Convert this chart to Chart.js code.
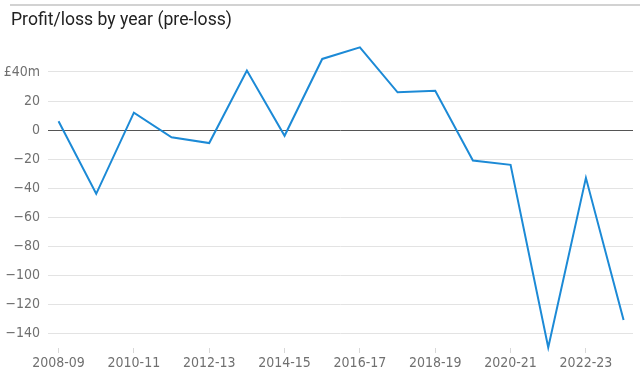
<!DOCTYPE html>
<html>
<head>
<meta charset="utf-8">
<script src="https://cdn.jsdelivr.net/npm/chart.js@4/dist/chart.umd.min.js"></script>
<style>
  html, body { margin: 0; padding: 0; background: #fff; }
  #wrap { position: relative; width: 640px; height: 378px; overflow: hidden; }
  #rule { position: absolute; left: 10px; right: 0; top: 4px; height: 2px; background: #d2d2d2; }
  #title { position: absolute; left: 11px; top: 9px; font-family: Roboto, "Liberation Sans", sans-serif; font-size: 17.6px; color: #222; white-space: nowrap; }
  canvas { position: absolute; left: 0; top: 0; }
</style>
</head>
<body>
<div id="wrap">
  <canvas id="c" width="640" height="378"></canvas>
  <div id="rule"></div>
  <div id="title">Profit/loss by year (pre-loss)</div>
</div>
<script>
const categories = ["2008-09","2009-10","2010-11","2011-12","2012-13","2013-14","2014-15","2015-16","2016-17","2017-18","2018-19","2019-20","2020-21","2021-22","2022-23","2023-24"];
const profitLoss = [6, -44, 12, -5, -9, 41, -4, 49, 57, 26, 27, -21, -24, -150, -33, -131];
const yTickValues = [40, 20, 0, -20, -40, -60, -80, -100, -120, -140];

const tickFont = { family: '"Liberation Sans Narrow", "DejaVu Sans Condensed", sans-serif', size: 14 };

new Chart(document.getElementById('c'), {
  type: 'line',
  data: {
    datasets: [{
      data: profitLoss.map((v, i) => ({ x: i, y: v })),
      borderColor: '#1c8ad6',
      borderWidth: 2,
      pointRadius: 0,
      tension: 0,
      fill: false,
      clip: false
    }]
  },
  options: {
    responsive: false,
    animation: false,
    layout: { padding: { top: 45, right: 7, left: 0, bottom: 0 } },
    plugins: { legend: { display: false }, tooltip: { enabled: false }, title: { display: false } },
    scales: {
      x: {
        type: 'linear',
        min: -0.28,
        max: 15.25,
        afterBuildTicks: (scale) => { scale.ticks = categories.map((c, i) => ({ value: i })); },
        afterFit: (scale) => { scale.height = 30; },
        border: { display: false },
        grid: {
          drawOnChartArea: false,
          drawTicks: true,
          tickLength: 5,
          tickColor: (ctx) => (ctx.index % 2 === 0 ? '#d8d8d8' : 'rgba(0,0,0,0)')
        },
        ticks: {
          autoSkip: false,
          maxRotation: 0,
          padding: 2,
          color: '#707070',
          font: tickFont,
          callback: (v, i) => (i % 2 === 0 ? categories[i] : '')
        }
      },
      y: {
        min: -150.34,
        max: 58.62,
        afterBuildTicks: (scale) => { scale.ticks = yTickValues.map(v => ({ value: v })); },
        afterFit: (scale) => { scale.width = 48; },
        border: { display: false },
        grid: {
          drawTicks: false,
          color: (ctx) => (ctx.tick && ctx.tick.value === 0 ? '#555' : '#e3e3e3'),
          lineWidth: 1
        },
        ticks: {
          padding: 8,
          color: '#707070',
          font: tickFont,
          callback: (v) => (v === 40 ? '£40m' : (v < 0 ? '\u2212' + Math.abs(v) : String(v)))
        }
      }
    }
  }
});
</script>
</body>
</html>
